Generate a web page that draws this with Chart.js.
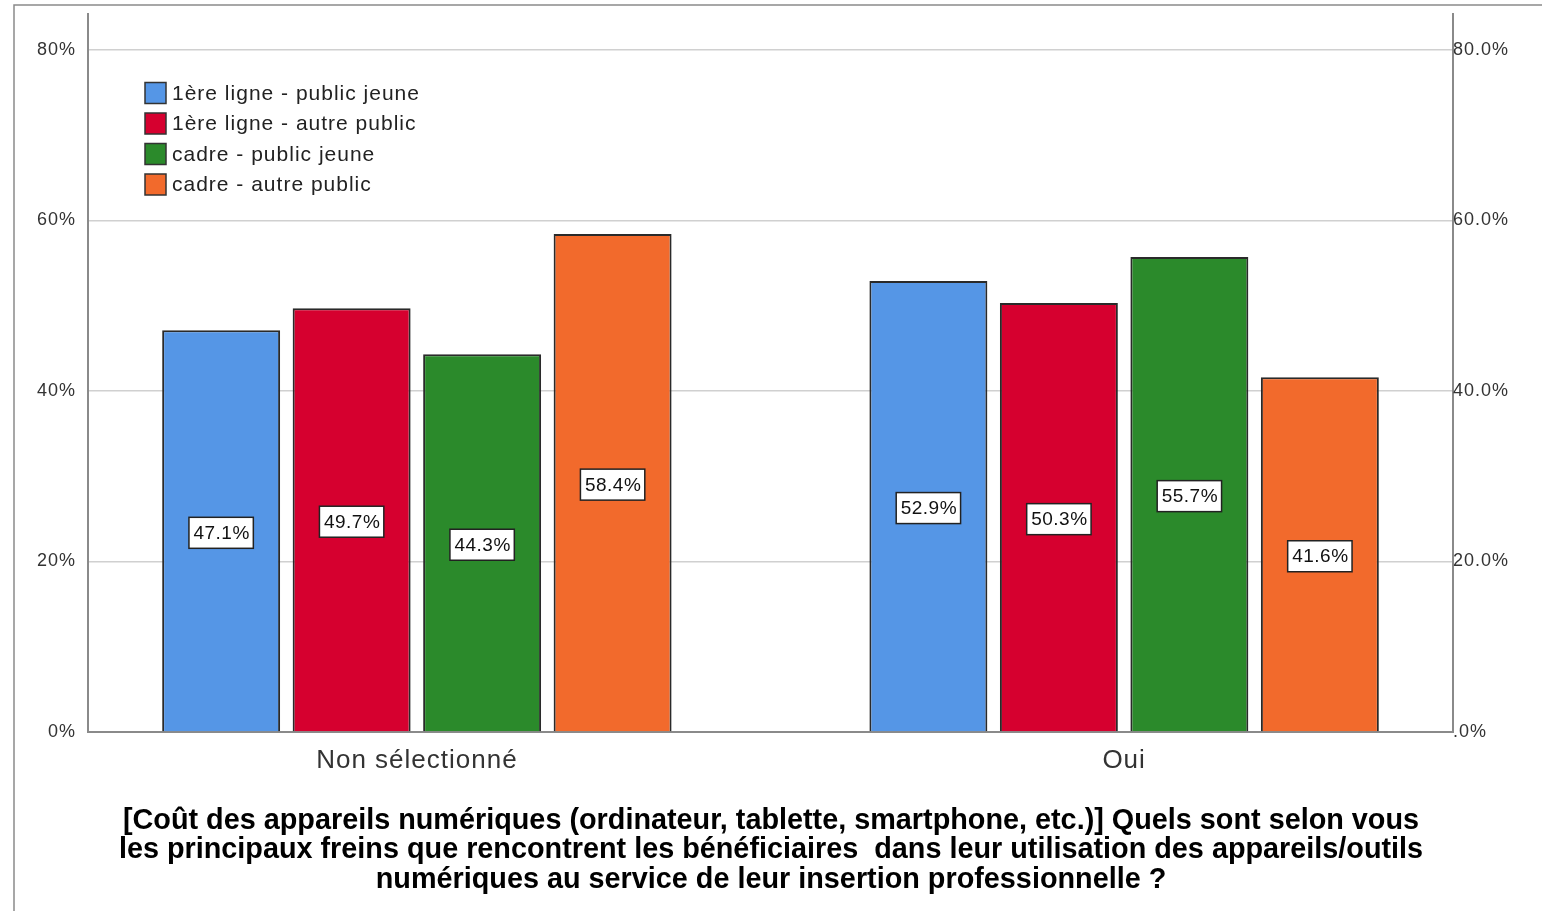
<!DOCTYPE html>
<html>
<head>
<meta charset="utf-8">
<script src="https://cdn.jsdelivr.net/npm/chart.js@4.4.1/dist/chart.umd.min.js"></script>
<style>
html,body{margin:0;padding:0;background:#fff;}
#wrap{width:1542px;height:911px;position:relative;}
</style>
</head>
<body>
<div id="wrap"><canvas id="c" width="1542" height="911"></canvas></div>
<script>
const categories = ['Non sélectionné', 'Oui'];
const seriesNames = ['1ère ligne - public jeune', '1ère ligne - autre public', 'cadre - public jeune', 'cadre - autre public'];
const seriesColors = ['#5596E6', '#D6002F', '#2B8A2B', '#F26A2C'];
const premiereJeune = [47.1, 52.9];
const premiereAutre = [49.7, 50.3];
const cadreJeune = [44.3, 55.7];
const cadreAutre = [58.4, 41.6];
const yTicks = [0, 20, 40, 60, 80];
const yMax = 84.2;
const titleLines = [
  '[Coût des appareils numériques (ordinateur, tablette, smartphone, etc.)] Quels sont selon vous',
  'les principaux freins que rencontrent les bénéficiaires  dans leur utilisation des appareils/outils',
  'numériques au service de leur insertion professionnelle ?'
];

const seriesValues = [premiereJeune, premiereAutre, cadreJeune, cadreAutre];
const datasets = seriesValues.map((vals, i) => ({
  label: seriesNames[i],
  data: vals.map((v, j) => ({x: j, y: v})),
  backgroundColor: seriesColors[i],
  borderColor: '#2a2a2a',
  borderWidth: 2,
  categoryPercentage: 0.738,
  barPercentage: 0.904
}));

const FONT = '"Liberation Sans", Arial, sans-serif';

const framePlugin = {
  id: 'frame',
  beforeDraw(chart) {
    const ctx = chart.ctx;
    ctx.save();
    ctx.fillStyle = '#fff';
    ctx.fillRect(0, 0, chart.width, chart.height);
    ctx.strokeStyle = '#8a8a8a';
    ctx.lineWidth = 1.5;
    ctx.beginPath();
    ctx.moveTo(14, chart.height);
    ctx.lineTo(14, 5);
    ctx.lineTo(chart.width, 5);
    ctx.stroke();
    ctx.restore();
    ctx.letterSpacing = '1px';
  },
  afterDraw(chart) {
    chart.ctx.letterSpacing = '0px';
  }
};

const labelPlugin = {
  id: 'barLabels',
  afterDatasetsDraw(chart) {
    const ctx = chart.ctx;
    ctx.save();
    ctx.letterSpacing = '0.5px';
    ctx.font = '19px ' + FONT;
    ctx.textAlign = 'center';
    ctx.textBaseline = 'middle';
    chart.data.datasets.forEach((ds, di) => {
      chart.getDatasetMeta(di).data.forEach((bar, i) => {
        const txt = ds.data[i].y.toFixed(1) + '%';
        const cx = bar.x;
        const cy = (bar.y + bar.base) / 2 + 2;
        const w = ctx.measureText(txt).width + 8;
        const h = 31;
        ctx.fillStyle = '#fff';
        ctx.fillRect(cx - w / 2, cy - h / 2, w, h);
        ctx.strokeStyle = '#222';
        ctx.lineWidth = 1.5;
        ctx.strokeRect(cx - w / 2, cy - h / 2, w, h);
        ctx.fillStyle = '#111';
        ctx.fillText(txt, cx + 0.5, cy + 1);
      });
    });
    ctx.restore();
  }
};

const legendPlugin = {
  id: 'innerLegend',
  afterDraw(chart) {
    const ctx = chart.ctx;
    const area = chart.chartArea;
    ctx.save();
    ctx.letterSpacing = '1px';
    ctx.font = '21px ' + FONT;
    ctx.textBaseline = 'middle';
    ctx.textAlign = 'left';
    const x0 = area.left + 57;
    const y0 = area.top + 79;
    chart.data.datasets.forEach((ds, i) => {
      const y = y0 + i * 30.5;
      ctx.fillStyle = ds.backgroundColor;
      ctx.fillRect(x0, y - 10.5, 21, 21);
      ctx.strokeStyle = '#333';
      ctx.lineWidth = 1.5;
      ctx.strokeRect(x0, y - 10.5, 21, 21);
      ctx.fillStyle = '#222';
      ctx.fillText(ds.label, x0 + 27, y + 1);
    });
    ctx.restore();
  }
};

const titlePlugin = {
  id: 'bottomTitle',
  afterDraw(chart) {
    const ctx = chart.ctx;
    ctx.save();
    ctx.letterSpacing = '0px';
    ctx.font = 'bold 28.8px ' + FONT;
    ctx.fillStyle = '#000';
    ctx.textAlign = 'center';
    ctx.textBaseline = 'middle';
    const cx = chart.width / 2;
    const top = chart.chartArea.bottom + 89;
    titleLines.forEach((line, i) => ctx.fillText(line, cx, top + i * 29.5));
    ctx.restore();
  }
};

const keepTicks = (scale) => { scale.ticks = yTicks.map(v => ({value: v})); };

new Chart(document.getElementById('c'), {
  type: 'bar',
  data: { datasets },
  options: {
    responsive: false,
    animation: false,
    devicePixelRatio: 1,
    layout: { padding: { top: 14, left: 0, right: 0, bottom: 0 } },
    plugins: {
      legend: { display: false },
      tooltip: { enabled: false },
      title: { display: false }
    },
    scales: {
      x: {
        type: 'linear',
        offset: false,
        min: -0.465,
        max: 1.465,
        grid: { display: false, drawTicks: false, offset: false },
        border: { display: true, color: '#8a8a8a', width: 2 },
        afterBuildTicks(scale) { scale.ticks = categories.map((c, i) => ({value: i})); },
        afterFit(scale) { scale.height = 179; scale.paddingLeft = 0; scale.paddingRight = 0; },
        ticks: {
          padding: 13,
          color: '#333',
          font: { family: FONT, size: 26 },
          callback: (v) => categories[v] ?? ''
        }
      },
      y: {
        position: 'left',
        min: 0,
        max: yMax,
        afterBuildTicks: keepTicks,
        afterFit(scale) { scale.width = 88; scale.paddingTop = 0; scale.paddingBottom = 0; },
        grid: { color: '#d0d0d0', lineWidth: 1.5, drawTicks: false },
        border: { display: true, color: '#8a8a8a', width: 2 },
        ticks: {
          padding: 12,
          color: '#333',
          font: { family: FONT, size: 18 },
          callback: (v) => v + '%'
        }
      },
      y1: {
        position: 'right',
        min: 0,
        max: yMax,
        afterBuildTicks: keepTicks,
        afterFit(scale) { scale.width = 89; scale.paddingTop = 0; scale.paddingBottom = 0; },
        grid: { display: false, drawTicks: false },
        border: { display: true, color: '#8a8a8a', width: 2 },
        ticks: {
          padding: 0,
          color: '#333',
          font: { family: FONT, size: 18 },
          callback: (v) => v === 0 ? '.0%' : v.toFixed(1) + '%'
        }
      }
    }
  },
  plugins: [framePlugin, labelPlugin, legendPlugin, titlePlugin]
});
</script>
</body>
</html>
